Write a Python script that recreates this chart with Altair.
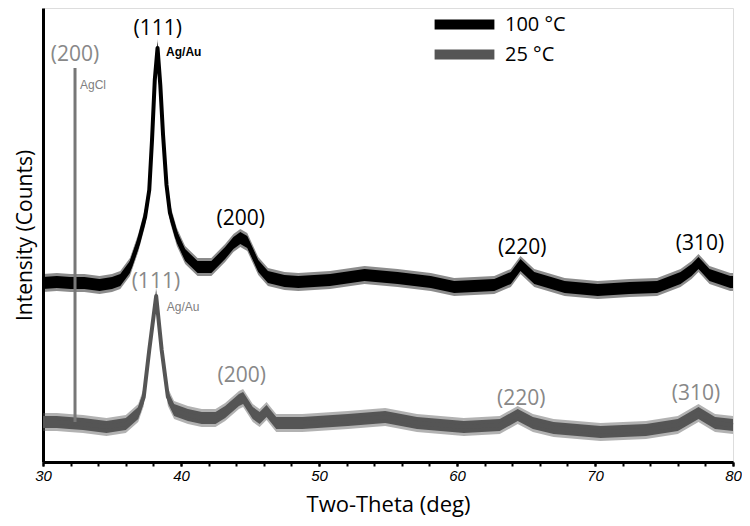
import altair as alt
import pandas as pd

# ---- data (2-theta in deg, intensity in arbitrary counts) ----
theta_100 = [30.0, 31.0, 32.0, 33.0, 34.1, 35.0, 35.6, 36.3, 36.9, 37.4, 37.7, 37.9, 38.1, 38.3,
             38.5, 38.7, 38.95, 39.2, 39.7, 40.3, 41.2, 42.2, 43.2, 43.8, 44.3, 44.8, 45.6, 46.3,
             47.5, 48.5, 50.8, 53.3, 55.7, 58.1, 59.8, 62.7, 63.9, 64.6, 65.6, 67.8, 70.2, 72.5,
             74.5, 76.2, 77.0, 77.5, 78.3, 79.8, 80.0]
counts_100 = [179, 180, 179, 179, 177, 179, 182, 195, 219, 245, 272, 322, 382, 414,
              377, 327, 277, 249, 225, 207, 195, 195, 209, 219, 224, 220, 196, 185,
              181, 180, 182, 187, 184, 180, 175, 177, 184, 197, 184, 175, 172, 174,
              175, 184, 192, 199, 187, 180, 180]

theta_25 = [30.0, 31.0, 31.9, 32.9, 34.6, 36.0, 36.9, 37.3, 37.7, 38.2, 38.6, 39.05, 39.5,
            40.5, 41.5, 42.5, 43.2, 44.2, 44.5, 45.2, 45.7, 46.2, 46.9, 48.8, 52.1, 54.8,
            57.1, 60.5, 63.1, 64.4, 65.5, 67.0, 70.4, 73.7, 76.0, 77.5, 78.7, 80.0]
counts_25 = [40, 40, 39, 38, 35, 38, 49, 65, 112, 166, 112, 65, 52,
             47, 44, 44, 50, 62, 64, 49, 44, 51, 39, 39, 42, 45,
             39, 35, 37, 47, 39, 34, 30, 32, 37, 49, 39, 37]

# noise band half-widths (counts)
noise_core = 6
noise_fringe = 9

# AgCl (200) reflection of the 25 °C sample: a very sharp line
agcl_theta = [32.32]
agcl_base = [40]
agcl_top = [394]

series_names = ["100 °C", "25 °C"]
series_colors = ["#000000", "#555555"]

# axis ticks
major_ticks = [30, 40, 50, 60, 70, 80]
minor_ticks = list(range(30, 81, 2))

# peak labels
big_text = ["(111)", "(200)", "(220)", "(310)", "(200)", "(111)", "(200)", "(220)", "(310)"]
big_theta = [38.32, 44.33, 64.73, 77.61, 32.32, 38.18, 44.4, 64.66, 77.32]
big_counts = [433, 243, 214, 218, 407, 180, 86, 63, 68]
big_color = ["#000000"] * 4 + ["#888888"] * 5

bold_text = ["Ag/Au"]
bold_theta = [38.92]
bold_counts = [410]

small_text = ["AgCl", "Ag/Au"]
small_theta = [32.68, 38.97]
small_counts = [377, 155]

# ---- tables ----
rows = []
for name, th, ct in [(series_names[0], theta_100, counts_100), (series_names[1], theta_25, counts_25)]:
    for t, c in zip(th, ct):
        rows.append({"series": name, "theta": t, "counts": c,
                     "lo": c - noise_core, "hi": c + noise_core,
                     "lo2": c - noise_fringe, "hi2": c + noise_fringe})
df = pd.DataFrame(rows)
spike = pd.DataFrame({"theta": agcl_theta, "base": agcl_base, "top": agcl_top})
big = pd.DataFrame({"text": big_text, "theta": big_theta, "counts": big_counts, "color": big_color})
bold = pd.DataFrame({"text": bold_text, "theta": bold_theta, "counts": bold_counts})
small = pd.DataFrame({"text": small_text, "theta": small_theta, "counts": small_counts})

xscale = alt.Scale(domain=[30, 80], nice=False, zero=False)
yscale = alt.Scale(domain=[0, 454], nice=False, zero=False)
cscale = alt.Scale(domain=series_names, range=series_colors)

xaxis = alt.Axis(values=major_ticks, orient="bottom",
                 grid=False, domainColor="black", domainWidth=3,
                 tickColor="black", tickSize=4, tickWidth=2,
                 labelFont="Liberation Sans", labelFontStyle="italic", labelFontSize=15,
                 labelColor="black", labelPadding=2, labelOverlap=False, labelBound=False,
                 labelFlush=False,
                 title="Two-Theta (deg)", titleFont="Open Sans", titleFontSize=22,
                 titleFontWeight="normal", titleColor="black", titlePadding=11)
xaxis_minor = alt.Axis(values=minor_ticks, orient="bottom", labels=False, domain=False,
                       grid=False, tickColor="black", tickSize=4, tickWidth=2, title=None)
yaxis = alt.Axis(labels=False, ticks=False, grid=False, domainColor="black", domainWidth=3,
                 title="Intensity (Counts)", titleFont="Open Sans", titleFontSize=21,
                 titleFontWeight="normal", titleColor="black", titlePadding=8)


def legend_for(y):
    return alt.Legend(title=None, orient="none", legendX=405, legendY=y,
                      symbolType="M-2.6,0H2.6", symbolStrokeWidth=10,
                      symbolSize=529, labelFont="Open Sans",
                      labelFontSize=20, labelColor="black", labelOffset=24)


base = alt.Chart(df)

fringe = base.mark_area(opacity=0.45, interpolate="linear").encode(
    x=alt.X("theta:Q", scale=xscale, axis=xaxis),
    y=alt.Y("lo2:Q", scale=yscale, axis=yaxis),
    y2="hi2:Q",
    color=alt.Color("series:N", scale=cscale, legend=None),
)
core = base.mark_area(opacity=1, interpolate="linear").encode(
    x=alt.X("theta:Q", scale=xscale, axis=None),
    y="lo:Q",
    y2="hi:Q",
    color=alt.Color("series:N", scale=cscale, legend=None),
)
line_hot = base.transform_filter(alt.datum.series == series_names[0]).mark_line(
    strokeWidth=4, strokeJoin="round").encode(
    x=alt.X("theta:Q", scale=xscale, axis=None),
    y="counts:Q",
    color=alt.Color("series:N",
                    scale=alt.Scale(domain=[series_names[0]], range=[series_colors[0]]),
                    legend=legend_for(0)),
)
line_rt = base.transform_filter(alt.datum.series == series_names[1]).mark_line(
    strokeWidth=4, strokeJoin="round").encode(
    x=alt.X("theta:Q", scale=xscale, axis=None),
    y="counts:Q",
    color=alt.Color("series:N",
                    scale=alt.Scale(domain=[series_names[1]], range=[series_colors[1]]),
                    legend=legend_for(30)),
)
agcl = alt.Chart(spike).mark_rule(strokeWidth=3, color="#777777").encode(
    x=alt.X("theta:Q", scale=xscale, axis=xaxis_minor), y="base:Q", y2="top:Q"
)
big_labels = alt.Chart(big).mark_text(font="Open Sans", fontSize=21, baseline="middle",
                                      align="center").encode(
    x=alt.X("theta:Q", scale=xscale, axis=None), y="counts:Q", text="text:N",
    color=alt.Color("color:N", scale=None),
)
bold_labels = alt.Chart(bold).mark_text(font="Liberation Sans", fontSize=12, fontWeight="bold",
                                        baseline="middle", align="left", color="#000000").encode(
    x=alt.X("theta:Q", scale=xscale, axis=None), y="counts:Q", text="text:N",
)
small_labels = alt.Chart(small).mark_text(font="Liberation Sans", fontSize=12, baseline="middle",
                                          align="left", color="#808080").encode(
    x=alt.X("theta:Q", scale=xscale, axis=None), y="counts:Q", text="text:N",
)

chart = alt.layer(fringe, core, line_hot, line_rt, agcl, big_labels, bold_labels,
                  small_labels).resolve_scale(
    color="independent"
).resolve_axis(x="independent").properties(
    width=690, height=454,
    autosize=alt.AutoSizeParams(type="none"),
    padding={"left": 35, "top": 0, "right": 9, "bottom": 56},
).configure_view(stroke=None).configure(background="white")

chart.save("out.html", embed_options={"renderer": "svg", "actions": False})
